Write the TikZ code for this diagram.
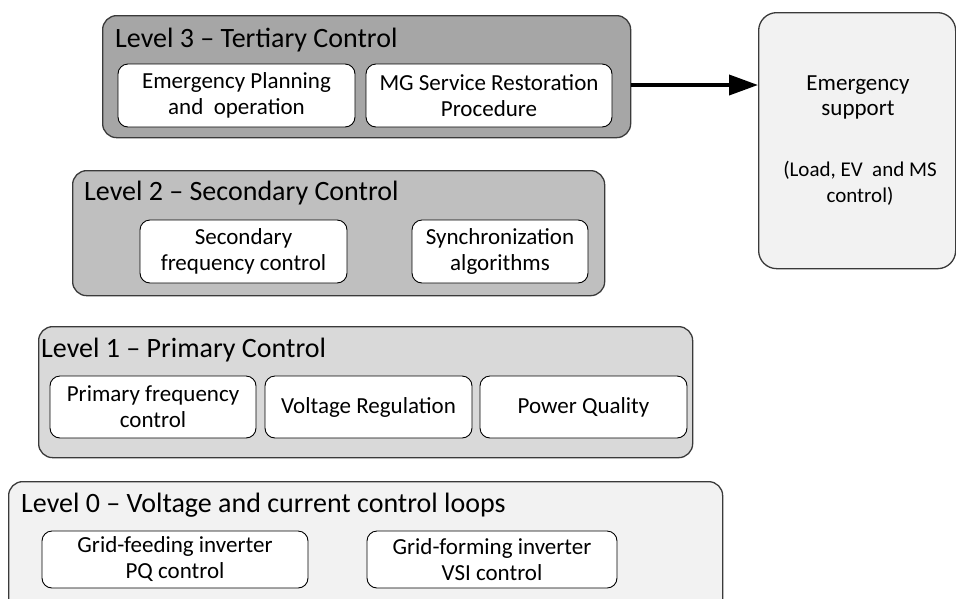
\documentclass[tikz,border=0pt]{standalone}
\usepackage{fontspec}
\setmainfont{Carlito}
\usetikzlibrary{arrows.meta}
\definecolor{tertiary}{HTML}{A6A6A6}
\definecolor{secondary}{HTML}{BFBFBF}
\definecolor{primary}{HTML}{D9D9D9}
\definecolor{innerloop}{HTML}{F2F2F2}
\definecolor{support}{HTML}{F2F2F2}
\definecolor{rim}{HTML}{3A3A3A}
\begin{document}
\begin{tikzpicture}[x=1pt,y=-1pt,
  levelbox/.style={draw=rim, line width=1.3pt, rounded corners=14pt, anchor=north west, inner sep=0pt},
  taskbox/.style={draw=black, line width=0.9pt, fill=white, rounded corners=10pt, align=center,
    font=\fontsize{23}{26}\selectfont, inner sep=0pt},
  leveltitle/.style={anchor=west, font=\fontsize{28}{30}\selectfont, inner sep=0pt}]
\useasboundingbox (0,0) rectangle (956,598);

% Level 3
\node[levelbox, fill=tertiary, minimum width=528pt, minimum height=122pt] (l3) at (102,15) {};
\node[leveltitle] (l3t) at (115,40) {Level 3 -- Tertiary Control};
\node[taskbox, minimum width=237pt, minimum height=63pt] (ep) at (236.5,95.5) {Emergency Planning\\and\ \ operation};
\node[taskbox, minimum width=246pt, minimum height=63pt] (mg) at (489,95.5) {MG Service Restoration\\Procedure};

% Emergency support
\node[levelbox, draw=rim, fill=support, rounded corners=18pt, minimum width=197pt, minimum height=256pt] (es) at (758,12) {};
\node[align=center, font=\fontsize{23}{25}\selectfont, inner sep=0pt] (est) at (858,97) {Emergency\\support};
\node[align=center, font=\fontsize{21}{26}\selectfont, inner sep=0pt] (esd) at (860,183) {(Load, EV\ \ and MS\\control)};
\draw[line width=3.8pt, -{Triangle[length=29pt,width=20pt]}] (l3.east |- 0,85) -- (es.west |- 0,85);

% Level 2
\node[levelbox, fill=secondary, minimum width=532pt, minimum height=125pt] (l2) at (72,170) {};
\node[leveltitle] (l2t) at (84,193) {Level 2 -- Secondary Control};
\node[taskbox, minimum width=207pt, minimum height=63pt] (sf) at (243.5,251.5) {Secondary\\frequency control};
\node[taskbox, minimum width=176pt, minimum height=63pt] (sa) at (500,251.5) {Synchronization\\algorithms};

% Level 1
\node[levelbox, fill=primary, minimum width=654pt, minimum height=131pt] (l1) at (38,326) {};
\node[leveltitle] (l1t) at (41,350) {Level 1 -- Primary Control};
\node[taskbox, minimum width=206pt, minimum height=62pt] (pf) at (153,407) {Primary frequency\\control};
\node[taskbox, minimum width=207pt, minimum height=62pt] (vr) at (368.5,407) {Voltage Regulation};
\node[taskbox, minimum width=207pt, minimum height=62pt] (pq) at (583.5,407) {Power Quality};

% Level 0
\node[levelbox, fill=innerloop, minimum width=714pt, minimum height=140pt] (l0) at (8,481) {};
\node[leveltitle] (l0t) at (21,505) {Level 0 -- Voltage and current control loops};
\node[taskbox, minimum width=266pt, minimum height=57pt] (gf) at (175,559.5) {Grid-feeding inverter\\PQ control};
\node[taskbox, minimum width=250pt, minimum height=57pt] (gm) at (492,559.5) {Grid-forming inverter\\VSI control};
\end{tikzpicture}
\end{document}
